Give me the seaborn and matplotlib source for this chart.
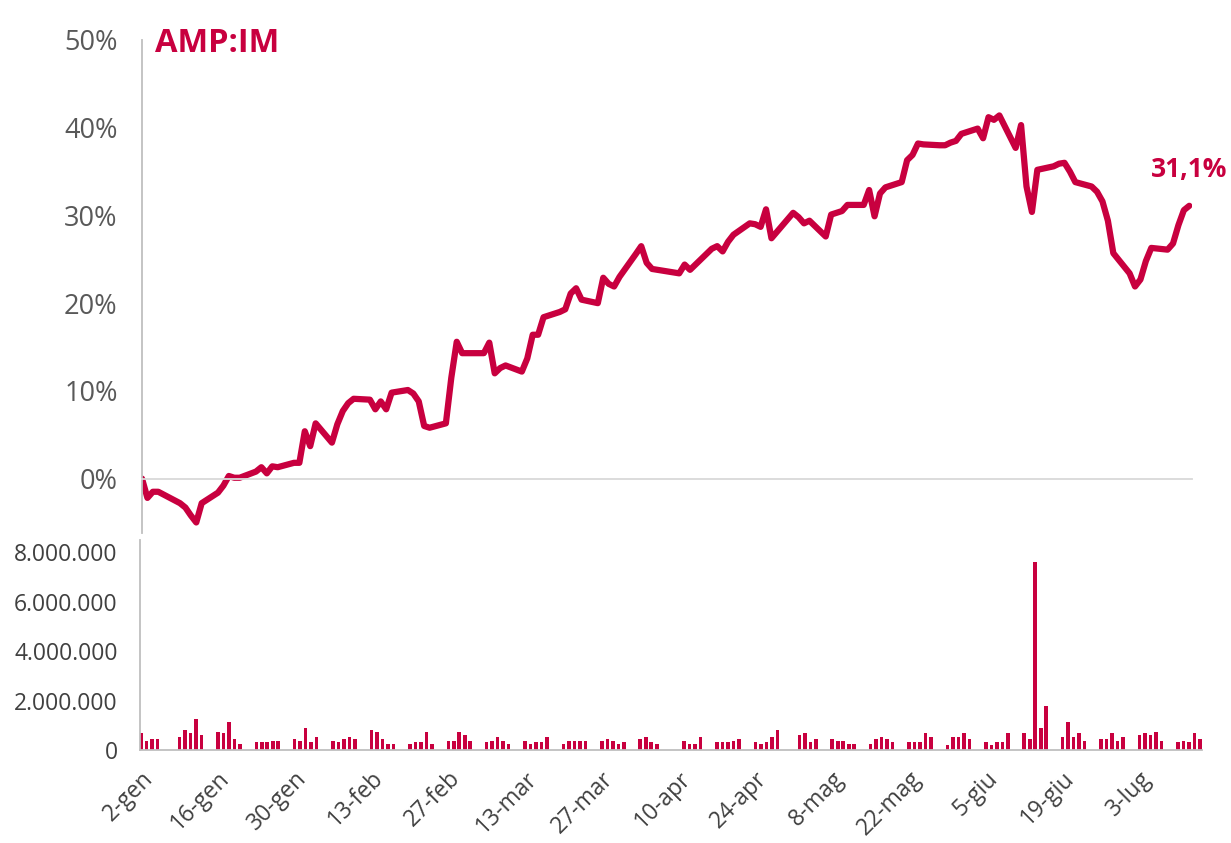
import pandas as pd
import matplotlib
matplotlib.use('Agg')
import matplotlib.pyplot as plt
import seaborn as sns

# ---------------------------------------------------------
# Data
# ---------------------------------------------------------
start_date = '2023-01-02'
end_date = '2023-07-14'
closed_days = ['2023-01-06', '2023-04-07', '2023-04-10', '2023-05-01']

ticker = 'AMP:IM'

# cumulative performance, % (one value per trading day)
perf_jan = [0.0, -2.2, -1.5, -1.5, -2.8, -3.3, -4.2, -5.0, -2.8, -1.6, -0.8,
            0.3, 0.1, 0.1, 0.8, 1.3, 0.6, 1.4, 1.3, 1.8, 1.8]
perf_feb = [5.4, 3.7, 6.3, 4.1, 6.2, 7.7, 8.6, 9.1, 9.0, 7.9, 8.8, 7.9, 9.8,
            10.1, 9.7, 8.8, 6.0, 5.8, 6.3, 11.5]
perf_mar = [15.6, 14.3, 14.3, 14.3, 15.5, 12.0, 12.6, 12.9, 12.2, 13.7, 16.4,
            16.4, 18.4, 19.0, 19.3, 21.1, 21.7, 20.4, 20.0, 22.9, 22.2, 21.9, 23.0]
perf_apr = [25.6, 26.5, 24.6, 23.9, 23.4, 24.4, 23.8, 24.4, 26.2, 26.5, 25.9,
            27.0, 27.8, 29.1, 29.0, 28.7, 30.7, 27.4]
perf_may = [30.3, 29.8, 29.1, 29.4, 27.6, 30.1, 30.3, 30.5, 31.2, 31.2, 32.9,
            29.9, 32.5, 33.2, 33.8, 36.3, 36.9, 38.2, 38.1, 38.0, 38.0, 38.3]
perf_jun = [38.5, 39.3, 39.9, 38.8, 41.2, 40.9, 41.4, 37.7, 40.3, 33.3, 30.4,
            35.2, 35.6, 35.9, 36.0, 35.0, 33.8, 33.3, 32.7, 31.6, 29.4, 25.7]
perf_jul = [23.4, 21.9, 22.7, 24.8, 26.3, 26.1, 26.8, 28.9, 30.6, 31.1]

# daily volume, shares
vol_jan = [670000, 380000, 440000, 440000, 510000, 810000, 670000, 1250000,
           610000, 740000, 670000, 1120000, 440000, 240000, 310000, 310000,
           310000, 380000, 380000, 440000, 380000]
vol_feb = [890000, 310000, 510000, 380000, 310000, 440000, 510000, 440000,
           810000, 740000, 440000, 240000, 240000, 240000, 310000, 310000,
           740000, 240000, 380000, 380000]
vol_mar = [740000, 610000, 380000, 310000, 380000, 510000, 380000, 240000,
           380000, 240000, 310000, 310000, 510000, 240000, 380000, 380000,
           380000, 380000, 380000, 440000, 380000, 240000, 310000]
vol_apr = [440000, 510000, 310000, 240000, 380000, 240000, 240000, 540000,
           310000, 310000, 310000, 380000, 440000, 310000, 240000, 310000,
           540000, 810000]
vol_may = [610000, 670000, 310000, 440000, 440000, 380000, 380000, 240000,
           240000, 240000, 440000, 510000, 440000, 310000, 310000, 310000,
           310000, 670000, 510000, 220000, 510000, 510000]
vol_jun = [670000, 440000, 310000, 220000, 310000, 310000, 670000, 670000,
           440000, 7620000, 890000, 1790000, 510000, 1120000, 510000, 670000,
           380000, 440000, 440000, 670000, 380000, 510000]
vol_jul = [590000, 670000, 590000, 740000, 380000, 310000, 380000, 310000,
           670000, 440000]

month_it = ['gen', 'feb', 'mar', 'apr', 'mag', 'giu',
            'lug', 'ago', 'set', 'ott', 'nov', 'dic']

# ---------------------------------------------------------
# Build frame
# ---------------------------------------------------------
dates = pd.bdate_range(start_date, end_date).drop(pd.to_datetime(closed_days))
performance = perf_jan + perf_feb + perf_mar + perf_apr + perf_may + perf_jun + perf_jul
volume = vol_jan + vol_feb + vol_mar + vol_apr + vol_may + vol_jun + vol_jul

df = pd.DataFrame({
    'day': (dates - dates[0]).days,
    'perf': performance,
    'volume': volume,
})

crimson = '#C8003F'
axis_grey = '#BFBFBF'

sns.set_style('white')
plt.rcParams['font.family'] = ['Open Sans', 'DejaVu Sans']

W, H = 1231, 843
fig = plt.figure(figsize=(W / 100, H / 100), dpi=100)
ax_top = fig.add_axes([142 / W, 1 - 533 / H, 1050 / W, 493 / H])
ax_bot = fig.add_axes([140 / W, 1 - 750 / H, 1062 / W, 210 / H])

# --- top panel: performance line ---
sns.lineplot(data=df, x='day', y='perf', ax=ax_top, color=crimson,
             linewidth=4.5, solid_joinstyle='round', solid_capstyle='round')

ax_top.set_xlim(0, 193.5)
ax_top.set_ylim(-6.2, 50)
for s in ['top', 'right']:
    ax_top.spines[s].set_visible(False)
ax_top.spines['left'].set_color(axis_grey)
ax_top.spines['bottom'].set_position(('data', 0))
ax_top.spines['bottom'].set_color('#D9D9D9')
ax_top.spines['left'].set_linewidth(1.3)
ax_top.spines['bottom'].set_linewidth(1.3)

month_starts = pd.date_range('2023-02-01', '2023-07-01', freq='MS')
ax_top.set_xticks((month_starts - dates[0]).days)
ax_top.set_xticklabels([])
ax_top.set_yticks(range(0, 51, 10))
ax_top.set_yticklabels([f'{v}%' for v in range(0, 51, 10)])
ax_top.tick_params(axis='x', direction='out', length=7, width=1.3, color='#D9D9D9')
ax_top.tick_params(axis='y', direction='out', length=6.5, width=1.3, color=axis_grey,
                   labelsize=19.5, labelcolor='#595959', pad=11)
ax_top.set_xlabel('')
ax_top.set_ylabel('')

ax_top.text(0.012, 0.992, ticker, transform=ax_top.transAxes, fontsize=23.5,
            fontweight='bold', color=crimson, ha='left', va='center')
last_label = f'{df["perf"].iloc[-1]:.1f}%'.replace('.', ',')
ax_top.text(df['day'].iloc[-1], 35.2, last_label, fontsize=19, fontweight='bold',
            color=crimson, ha='center', va='center')

# --- bottom panel: volume bars ---
sns.barplot(data=df, x='day', y='volume', ax=ax_bot, color=crimson, native_scale=True,
            width=0.65, errorbar=None, saturation=1, linewidth=0)

ax_bot.set_xlim(-0.2, 193.4)
ax_bot.set_ylim(0, 8.5e6)
for s in ['top', 'right']:
    ax_bot.spines[s].set_visible(False)
ax_bot.spines['left'].set_color(axis_grey)
ax_bot.spines['bottom'].set_color(axis_grey)
ax_bot.spines['left'].set_linewidth(1.3)
ax_bot.spines['bottom'].set_linewidth(1.3)

yt = list(range(0, 8000001, 2000000))
ax_bot.set_yticks(yt)
ax_bot.set_yticklabels([f'{v:,}'.replace(',', '.') for v in yt])
xt = list(range(0, 183, 14))
ax_bot.set_xticks(xt)
tick_dates = [dates[0] + pd.Timedelta(days=d) for d in xt]
ax_bot.set_xticklabels([f'{d.day}-{month_it[d.month - 1]}' for d in tick_dates],
                       rotation=45, ha='right', rotation_mode='anchor')
ax_bot.tick_params(axis='x', direction='out', length=8, width=1.3, color=axis_grey,
                   labelsize=16.5, labelcolor='#404040', pad=4)
ax_bot.tick_params(axis='y', direction='out', length=7, width=1.3, color=axis_grey,
                   labelsize=16.5, labelcolor='#404040', pad=9)
ax_bot.set_xlabel('')
ax_bot.set_ylabel('')

fig.savefig('out.png', dpi=100)
